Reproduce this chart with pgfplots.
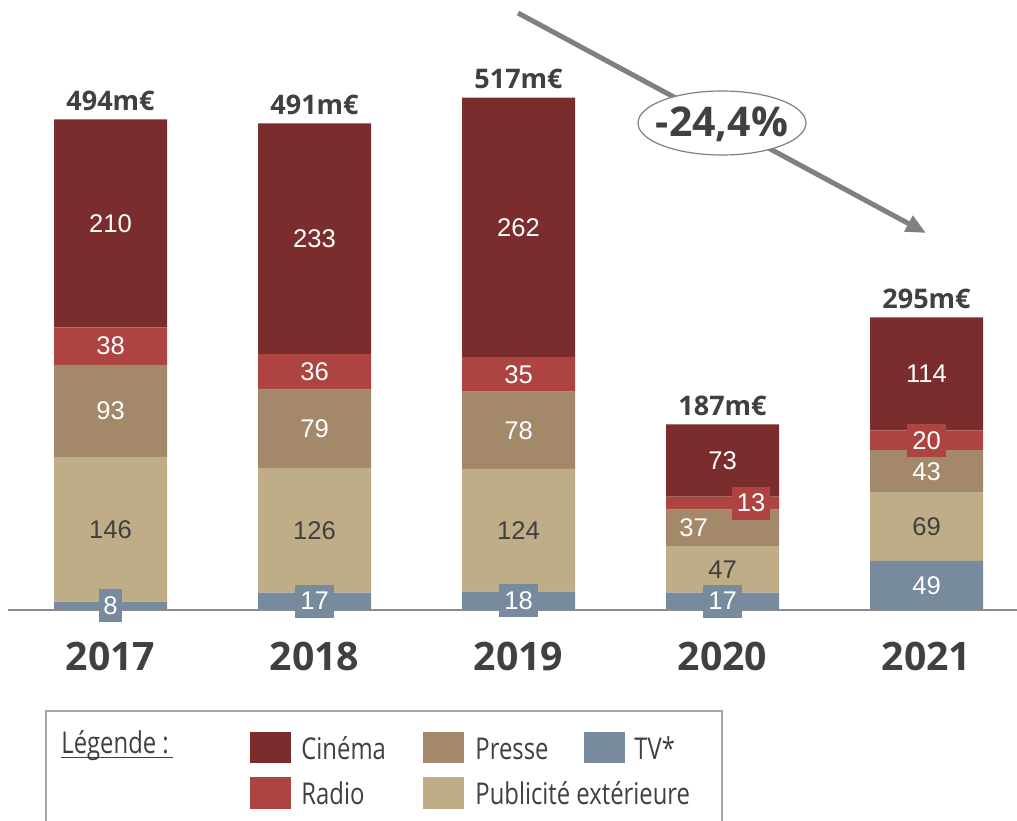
\documentclass[border=0pt]{standalone}
\usepackage{fontspec}
\setmainfont{Liberation Sans}
\newfontfamily\osans{Open Sans}
\newfontfamily\cond{Open Sans}[FakeStretch=0.795]
\usepackage{pgfplots}
\pgfplotsset{compat=1.18}
\usepackage{pgfplotstable}
\usetikzlibrary{arrows.meta}

\definecolor{cine}{HTML}{7B2D2D}
\definecolor{radio}{HTML}{AD4442}
\definecolor{presse}{HTML}{A3886A}
\definecolor{pub}{HTML}{BFAD88}
\definecolor{tv}{HTML}{778A9E}
\definecolor{txt}{HTML}{404040}
\definecolor{axgray}{HTML}{8C8C8C}
\definecolor{arrgray}{HTML}{808080}
\definecolor{boxgray}{HTML}{A6A6A6}

\pgfplotstableread{
x tv pub presse radio cine
0 8 146 93 38 210
1 17 126 79 36 233
2 18 124 78 35 262
3 17 47 37 13 73
4 49 69 43 20 114
}\datatable

\newcommand{\numfont}{\fontsize{12.8}{15}\selectfont}
\newcommand{\totfont}{\osans\bfseries\fontsize{13.5}{16}\selectfont}
\newcommand{\seg}[4]{\node[text=#4, font=\numfont, inner sep=0pt] at (axis cs:#1,#2) {#3};}
\newcommand{\segbox}[4]{\node[fill=#4, text=white, font=\numfont, inner xsep=2.4pt, inner ysep=0pt, minimum height=16.5pt] at (axis cs:#1,#2) {#3};}
\newcommand{\tot}[3]{\node[anchor=base, font=\totfont, text=txt, inner sep=0pt] at (axis cs:#1,#2) [yshift=4.5pt] {#3};}

\pgfplotsset{frame/.style={
  at={(4pt,105.25pt)}, anchor=south west,
  scale only axis, width=504.5pt, height=297pt,
  xmin=-0.5025, xmax=4.4436, ymin=0, ymax=600, clip=false}}

\begin{document}
\begin{tikzpicture}
\path[use as bounding box] (0,0) rectangle (508.5pt,410pt);
\begin{axis}[
  frame,
  ybar stacked, bar width=56.5pt,
  axis x line*=bottom, hide y axis,
  x axis line style={draw=axgray, line width=1pt, -},
  xtick={0,1,2,3,4},
  xticklabels={2017,2018,2019,2020,2021},
  major tick length=0pt,
  xticklabel style={font=\osans\bfseries\fontsize{19.6}{23}\selectfont, text=txt, anchor=center, yshift=-23.25pt, inner sep=0pt},
]
\addplot[fill=tv, draw=none] table[x=x,y=tv]{\datatable};
\addplot[fill=pub, draw=none] table[x=x,y=pub]{\datatable};
\addplot[fill=presse, draw=none] table[x=x,y=presse]{\datatable};
\addplot[fill=radio, draw=none] table[x=x,y=radio]{\datatable};
\addplot[fill=cine, draw=none] table[x=x,y=cine]{\datatable};
\end{axis}

\begin{axis}[frame, hide axis]
% 2017
\segbox{0}{4}{8}{tv}
\seg{0}{81}{146}{txt}
\seg{0}{200.5}{93}{white}
\seg{0}{266}{38}{white}
\seg{0}{390}{210}{white}
\tot{0}{495}{494m€}
% 2018
\segbox{1}{8.5}{17}{tv}
\seg{1}{80}{126}{txt}
\seg{1}{182.5}{79}{white}
\seg{1}{240}{36}{white}
\seg{1}{374.5}{233}{white}
\tot{1}{491}{491m€}
% 2019
\segbox{2}{9}{18}{tv}
\seg{2}{80}{124}{txt}
\seg{2}{181}{78}{white}
\seg{2}{237.5}{35}{white}
\seg{2}{386}{262}{white}
\tot{2}{517}{517m€}
% 2020
\segbox{3}{8.5}{17}{tv}
\seg{3}{40.5}{47}{txt}
\seg{2.858}{82.5}{37}{white}
\segbox{3.14}{107.5}{13}{radio}
\seg{3}{150.5}{73}{white}
\tot{3}{187}{187m€}
% 2021
\seg{4}{24.5}{49}{white}
\seg{4}{83.5}{69}{txt}
\seg{4}{139.5}{43}{white}
\segbox{4}{171}{20}{radio}
\seg{4}{238}{114}{white}
\tot{4}{295}{295m€}
\end{axis}

\begin{scope}[x=0.5pt, y=-0.5pt, shift={(0pt,410pt)}]
  % trend arrow
  \draw[line width=2.5pt, arrgray, -{Triangle[length=10pt,width=8.5pt]}] (518,13) -- (926,233);
  \draw[draw=arrgray, fill=white, line width=0.6pt] (722,123) ellipse [x radius=42pt, y radius=16pt];
  \node[anchor=base, font=\osans\bfseries\fontsize{20.5}{24}\selectfont, text=txt, inner sep=0pt] at (722,136.5) {-24,4\%};
  % legend
  \draw[boxgray, line width=1pt] (46,711) rectangle (722,830);
  \node[anchor=base west, font=\cond\fontsize{15}{18}\selectfont, text=txt, inner sep=0pt] at (61,753) {Légende :};
  \draw[txt, line width=0.6pt] (61,757.5) -- (173,757.5);
  \fill[cine] (250,732) rectangle (291,763);
  \fill[radio] (250,777) rectangle (291,809);
  \fill[presse] (423,732) rectangle (464,763);
  \fill[pub] (423,777) rectangle (464,809);
  \fill[tv] (584,732) rectangle (625,763);
  \node[anchor=base west, font=\cond\fontsize{15}{18}\selectfont, text=txt, inner sep=0pt] at (301,759) {Cinéma};
  \node[anchor=base west, font=\cond\fontsize{15}{18}\selectfont, text=txt, inner sep=0pt] at (301,804) {Radio};
  \node[anchor=base west, font=\cond\fontsize{15}{18}\selectfont, text=txt, inner sep=0pt] at (475,759) {Presse};
  \node[anchor=base west, font=\cond\fontsize{15}{18}\selectfont, text=txt, inner sep=0pt] at (475,804) {Publicité extérieure};
  \node[anchor=base west, font=\cond\fontsize{15}{18}\selectfont, text=txt, inner sep=0pt] at (634,759) {TV*};
\end{scope}
\end{tikzpicture}
\end{document}
